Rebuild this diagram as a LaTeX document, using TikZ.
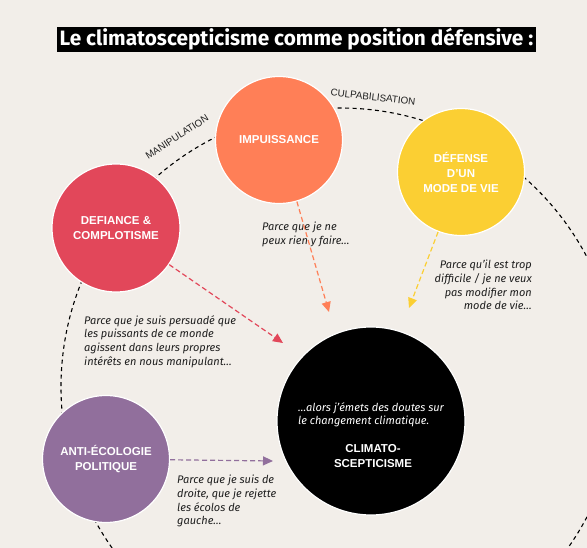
\documentclass[tikz,border=0pt]{standalone}
\usepackage{fontspec}
\setmainfont{Fira Sans}
\newfontfamily\capsfont{Liberation Sans}
\usepackage{tikz}
\usetikzlibrary{arrows.meta,positioning}
\definecolor{pagebg}{RGB}{242,238,233}
\definecolor{impuisscol}{RGB}{255,127,87}
\definecolor{defensecol}{RGB}{251,207,51}
\definecolor{defiancecol}{RGB}{226,71,90}
\definecolor{antiecocol}{RGB}{145,111,156}
\definecolor{notetext}{RGB}{30,30,30}
\tikzset{
  bubble/.style={
    circle,
    draw=white,
    line width=1.2pt,
    align=center,
    text=white,
    inner sep=0pt,
    font=\capsfont\bfseries\fontsize{11.5}{15}\selectfont
  },
  note/.style={
    align=left,
    inner sep=0pt,
    text=notetext,
    font=\itshape\fontsize{11}{13.7}\selectfont
  },
  ringlabel/.style={
    inner sep=0pt,
    text=notetext,
    font=\capsfont\fontsize{9.8}{10}\selectfont
  },
  ring/.style={dash pattern=on 4pt off 3.5pt, line width=1.1pt},
  feed/.style={-{Triangle[length=10pt,width=9pt]}, dash pattern=on 5pt off 3pt, line width=1.2pt}
}

\begin{document}
\begin{tikzpicture}[x=1pt,y=-1pt]
  \path[use as bounding box, fill=pagebg] (0,0) rectangle (587,548);
  \clip (0,0) rectangle (587,548);

  % title
  \node[fill=black, text=white, minimum width=479pt, minimum height=25pt, inner sep=0pt,
        font=\bfseries\fontsize{20.8}{24}\selectfont] (title) at (296.5,39.5)
        {Le climatoscepticisme comme position défensive :};

  % dashed ring behind the bubbles
  \draw[ring] (340,387) circle (279);
  \node[ringlabel, rotate=33] (manip) at (177,137) {MANIPULATION};
  \node[ringlabel, rotate=-6.5] (culpa) at (373,97) {CULPABILISATION};

  % bubbles
  \node[bubble, fill=impuisscol, minimum size=127pt] (impuiss) at (279,140) {IMPUISSANCE};
  \node[bubble, fill=defensecol, minimum size=127pt] (defense) at (461,172) {DÉFENSE\\D’UN\\MODE DE VIE};
  \node[bubble, fill=defiancecol, minimum size=128pt] (defiance) at (116,228) {DEFIANCE \&\\COMPLOTISME};
  \node[bubble, fill=antiecocol, minimum size=127pt] (antieco) at (106,459) {ANTI-ÉCOLOGIE\\POLITIQUE};
  \node[bubble, fill=black, minimum size=188pt] (climato) at (371,421) {};

  \node[note, text=white, anchor=north west] (doubts) at (298,402)
    {…alors j’émets des doutes sur\\le changement climatique.};
  \node[bubble, draw=none] (climatolabel) at (373,456) {CLIMATO-\\SCEPTICISME};

  % notes
  \node[note, anchor=north west] (whyimpuiss) at (262,222) {Parce que je ne\\peux rien y faire…};
  \node[note, anchor=north east, align=right] (whydefense) at (532,260)
    {Parce qu’il est trop\\difficile / je ne veux\\pas modifier mon\\mode de vie…};
  \node[note, anchor=north west] (whydefiance) at (84,315)
    {Parce que je suis persuadé que\\les puissants de ce monde\\agissent dans leurs propres\\intérêts en nous manipulant…};
  \node[note, anchor=north west] (whyantieco) at (177,475)
    {Parce que je suis de\\droite, que je rejette\\les écolos de\\gauche…};

  % arrows towards climato
  \coordinate (defiancetip) at (283,343);
  \coordinate (impuisstip) at (329,312);
  \coordinate (defensetip) at (409,308);
  \coordinate (antiecotip) at (273,461);
  \draw[feed, color=defiancecol] (defiance) -- (defiancetip);
  \draw[feed, color=impuisscol] (impuiss) -- (impuisstip);
  \draw[feed, color=defensecol] (defense) -- (defensetip);
  \draw[feed, color=antiecocol] (antieco) -- (antiecotip);
\end{tikzpicture}
\end{document}
